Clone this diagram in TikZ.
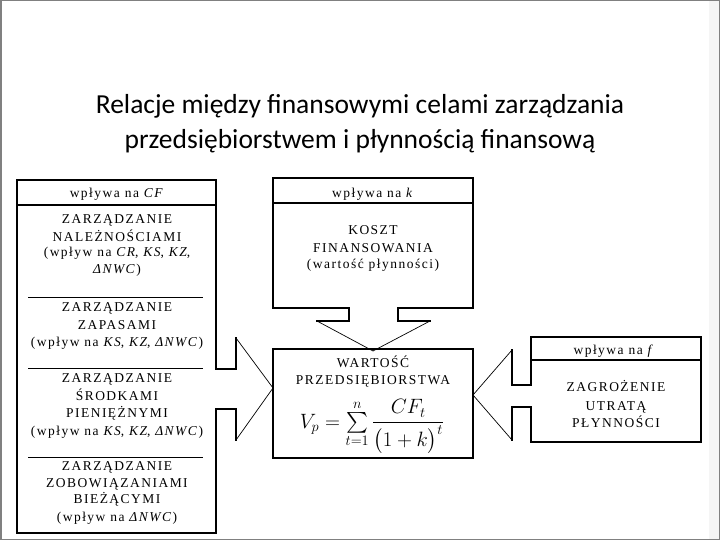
\documentclass[tikz,border=0pt]{standalone}
\usepackage{amsmath}
\usepackage{fontspec}
\setmainfont{Liberation Serif}
\newfontfamily\titlefont{Carlito}
\newfontfamily\boxfont[LetterSpace=11]{Liberation Serif}
\tikzset{
  outl/.style={line width=1.6pt, line join=miter, line cap=rect},
  hdrl/.style={line width=1.2pt},
  thinl/.style={line width=0.7pt},
  sepl/.style={line width=0.9pt},
  btxt/.style={font=\boxfont\fontsize{13.5}{17}\selectfont, inner sep=0pt, anchor=base},
  ttxt/.style={font=\titlefont\fontsize{27.5}{32}\selectfont, inner sep=0pt, anchor=base},
}
\begin{document}
\begin{tikzpicture}[x=1pt,y=-1pt]
\useasboundingbox (0,0) rectangle (720,540);
% slide frame
\fill[black!4] (709,1) rectangle (719,539);
\draw[gray, line width=1.5pt] (0.75,0.75) rectangle (719.25,539.25);
% title
\node[ttxt] (t1) at (360,114) {Relacje między finansowymi celami zarządzania};
\node[ttxt] (t2) at (360,149) {przedsiębiorstwem i płynnością finansową};

% left box with arrow
\draw[outl] (216,369) -- (216,180) -- (17,180) -- (17,533) -- (216,533) -- (216,409) -- (236,409) -- (236,440);
\draw[outl] (216,369) -- (236,369) -- (236,338);
\coordinate (ltip) at (273,388);
\draw[thinl] (236,338) -- (ltip) -- (236,440);
\draw[hdrl] (17,205) -- (216,205);
\draw[sepl] (28,297) -- (203,297);
\draw[sepl] (28,368) -- (203,368);
\draw[sepl] (28,457) -- (203,457);
\node[btxt] (lh) at (117,197) {wpływa na \textit{CF}};
\node[btxt] (l1a) at (117,224) {ZARZĄDZANIE};
\node[btxt] (l1b) at (117,241.5) {NALEŻNOŚCIAMI};
\node[btxt] (l1c) at (117,256.5) {(wpływ na \textit{CR}, \textit{KS}, \textit{KZ},};
\node[btxt] (l1d) at (117,273.5) {\textit{ΔNWC})};
\node[btxt] (l2a) at (117,311.5) {ZARZĄDZANIE};
\node[btxt] (l2b) at (117,329) {ZAPASAMI};
\node[btxt] (l2c) at (117,346.5) {(wpływ na \textit{KS}, \textit{KZ}, \textit{ΔNWC})};
\node[btxt] (l3a) at (117,382) {ZARZĄDZANIE};
\node[btxt] (l3b) at (117,400) {ŚRODKAMI};
\node[btxt] (l3c) at (117,417) {PIENIĘŻNYMI};
\node[btxt] (l3d) at (117,435) {(wpływ na \textit{KS}, \textit{KZ}, \textit{ΔNWC})};
\node[btxt] (l4a) at (117,470.5) {ZARZĄDZANIE};
\node[btxt] (l4b) at (117,487) {ZOBOWIĄZANIAMI};
\node[btxt] (l4c) at (117,503) {BIEŻĄCYMI};
\node[btxt] (l4d) at (117,521.5) {(wpływ na \textit{ΔNWC})};

% middle top box with down arrow
\draw[outl] (349,321) -- (349,308) -- (273,308) -- (273,178) -- (473,178) -- (473,308) -- (398,308) -- (398,321) -- (430,321);
\draw[outl] (349,321) -- (317,321);
\coordinate (dtip) at (373,351);
\draw[thinl] (317,321) -- (dtip) -- (430,321);
\draw[hdrl] (273,203) -- (473,203);
\node[btxt] (mh) at (373,198) {wpływa na \textit{k}};
\node[btxt] (m1) at (373,235) {KOSZT};
\node[btxt] (m2) at (373,252) {FINANSOWANIA};
\node[btxt] (m3) at (373,268) {(wartość płynności)};

% centre box
\draw[outl] (273,349) rectangle (473,458);
\node[btxt] (c1) at (373,367) {WARTOŚĆ};
\node[btxt] (c2) at (373,384) {PRZEDSIĘBIORSTWA};
\node[inner sep=0pt, anchor=base, font=\fontsize{20}{23}\selectfont] (cf) at (372,428)
  {$V_p=\sum\limits_{t=1}^{n}\dfrac{CF_t}{\bigl(1+k\bigr)^{t}}$};

% right box with left arrow
\draw[outl] (512,350) -- (512,385) -- (531,385) -- (531,337) -- (701,337) -- (701,442) -- (531,442) -- (531,407) -- (512,407) -- (512,440);
\coordinate (rtip) at (473,395);
\draw[thinl] (512,350) -- (rtip) -- (512,440);
\draw[hdrl] (531,360) -- (701,360);
\node[btxt] (rh) at (614,354) {wpływa na \textit{f}};
\node[btxt] (r1) at (616,391.5) {ZAGROŻENIE};
\node[btxt] (r2) at (616,410) {UTRATĄ};
\node[btxt] (r3) at (616,427) {PŁYNNOŚCI};
\end{tikzpicture}
\end{document}
